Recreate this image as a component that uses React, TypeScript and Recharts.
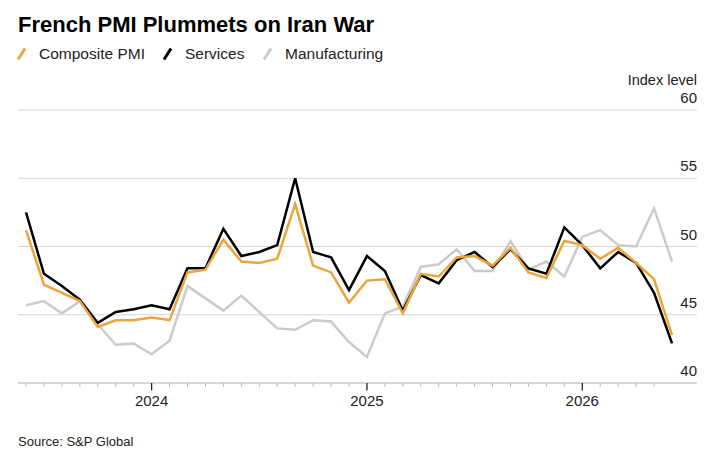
import { LineChart, Line, XAxis, YAxis, CartesianGrid } from 'recharts';

const months = [
  'Jun 2023', 'Jul 2023', 'Aug 2023', 'Sep 2023', 'Oct 2023', 'Nov 2023', 'Dec 2023',
  'Jan 2024', 'Feb 2024', 'Mar 2024', 'Apr 2024', 'May 2024', 'Jun 2024', 'Jul 2024',
  'Aug 2024', 'Sep 2024', 'Oct 2024', 'Nov 2024', 'Dec 2024', 'Jan 2025', 'Feb 2025',
  'Mar 2025', 'Apr 2025', 'May 2025', 'Jun 2025', 'Jul 2025', 'Aug 2025', 'Sep 2025',
  'Oct 2025', 'Nov 2025', 'Dec 2025', 'Jan 2026', 'Feb 2026', 'Mar 2026', 'Apr 2026',
  'May 2026', 'Jun 2026',
];

const composite = [
  51.2, 47.2, 46.6, 46.0, 44.1, 44.6, 44.6, 44.8, 44.6, 48.1, 48.3, 50.5, 48.9, 48.8,
  49.1, 53.1, 48.6, 48.1, 45.9, 47.5, 47.6, 45.1, 48.0, 47.8, 49.2, 49.3, 48.6, 49.9,
  48.1, 47.7, 50.4, 50.1, 49.1, 49.9, 48.8, 47.6, 43.5,
];

const services = [
  52.5, 48.0, 47.1, 46.1, 44.4, 45.2, 45.4, 45.7, 45.4, 48.4, 48.4, 51.3, 49.3, 49.6,
  50.1, 55.0, 49.6, 49.2, 46.8, 49.3, 48.2, 45.3, 47.9, 47.3, 49.0, 49.6, 48.5, 49.8,
  48.4, 48.0, 51.4, 50.1, 48.4, 49.6, 48.8, 46.6, 42.9,
];

const manufacturing = [
  45.7, 46.0, 45.1, 46.0, 44.3, 42.8, 42.9, 42.1, 43.1, 47.1, 46.2, 45.3, 46.4, 45.2,
  44.0, 43.9, 44.6, 44.5, 43.0, 41.9, 45.1, 45.6, 48.5, 48.7, 49.8, 48.2, 48.2, 50.4,
  48.3, 48.9, 47.8, 50.7, 51.2, 50.1, 50.0, 52.8, 48.9,
];

const yTicks = [40, 45, 50, 55, 60];

const data = months.map((month, i) => ({
  month,
  composite: composite[i],
  services: services[i],
  manufacturing: manufacturing[i],
}));

const FONT = '"Liberation Sans", Arial, sans-serif';
const ORANGE = '#eba53c';
const GREY = '#cbcbcb';

function MonthTick(props: any) {
  const { x, y, payload } = props;
  // no tick under the latest month
  if (payload.index === months.length - 1) return null;
  const isJan = String(payload.value).startsWith('Jan');
  return (
    <g>
      <line
        x1={x}
        x2={x}
        y1={y}
        y2={y + (isJan ? 7.5 : 4)}
        stroke={isJan ? '#222' : '#b8b8b8'}
        strokeWidth={isJan ? 1.3 : 1}
      />
      {isJan && (
        <text x={x} y={y + 23} textAnchor="middle" fontSize={15} fill="#222" fontFamily={FONT}>
          {String(payload.value).slice(4)}
        </text>
      )}
    </g>
  );
}

function LevelTick(props: any) {
  const { y, payload } = props;
  return (
    <text x={697} y={y - 7} textAnchor="end" fontSize={15} fill="#222" fontFamily={FONT}>
      {payload.value}
    </text>
  );
}

function LegendItem(props: { x: number; color: string; label: string }) {
  const { x, color, label } = props;
  return (
    <g>
      <line x1={x} y1={59.5} x2={x + 7} y2={48.5} stroke={color} strokeWidth={3} />
      <text x={x + 21} y={58.5} fontSize={15.5} fill="#222" fontFamily={FONT}>
        {label}
      </text>
    </g>
  );
}

export default function App() {
  return (
    <div
      style={{
        position: 'absolute',
        left: 0,
        top: 0,
        width: 722,
        height: 464,
        background: '#fff',
        fontFamily: FONT,
      }}
    >
      <LineChart
        width={722}
        height={464}
        data={data}
        margin={{ top: 110, right: 25, bottom: 51, left: 18 }}
      >
        <CartesianGrid vertical={false} stroke="#d6d6d6" strokeWidth={1.2} />
        <XAxis
          dataKey="month"
          interval={0}
          padding={{ left: 8, right: 25 }}
          height={30}
          tickSize={0}
          tickMargin={0}
          tick={<MonthTick />}
          axisLine={{ stroke: '#c4c4c4', strokeWidth: 1.2 }}
          tickLine={false}
        />
        <YAxis
          orientation="right"
          mirror
          domain={[40, 60]}
          ticks={yTicks}
          axisLine={false}
          tickLine={false}
          tick={<LevelTick />}
        />
        <Line
          dataKey="manufacturing"
          stroke={GREY}
          strokeWidth={2.5}
          dot={false}
          isAnimationActive={false}
        />
        <Line
          dataKey="services"
          stroke="#000"
          strokeWidth={2.5}
          dot={false}
          isAnimationActive={false}
        />
        <Line
          dataKey="composite"
          stroke={ORANGE}
          strokeWidth={2.5}
          dot={false}
          isAnimationActive={false}
        />
      </LineChart>

      <svg
        width={722}
        height={464}
        style={{ position: 'absolute', left: 0, top: 0, pointerEvents: 'none' }}
      >
        <text x={18} y={31.5} fontSize={22} fontWeight="bold" fill="#000" fontFamily={FONT}>
          French PMI Plummets on Iran War
        </text>
        <LegendItem x={18} color={ORANGE} label="Composite PMI" />
        <LegendItem x={164} color="#000" label="Services" />
        <LegendItem x={264} color={GREY} label="Manufacturing" />
        <text x={697} y={85} textAnchor="end" fontSize={14.5} fill="#222" fontFamily={FONT}>
          Index level
        </text>
        <text x={18} y={445.5} fontSize={13} fill="#222" fontFamily={FONT}>
          Source: S&amp;P Global
        </text>
      </svg>
    </div>
  );
}
